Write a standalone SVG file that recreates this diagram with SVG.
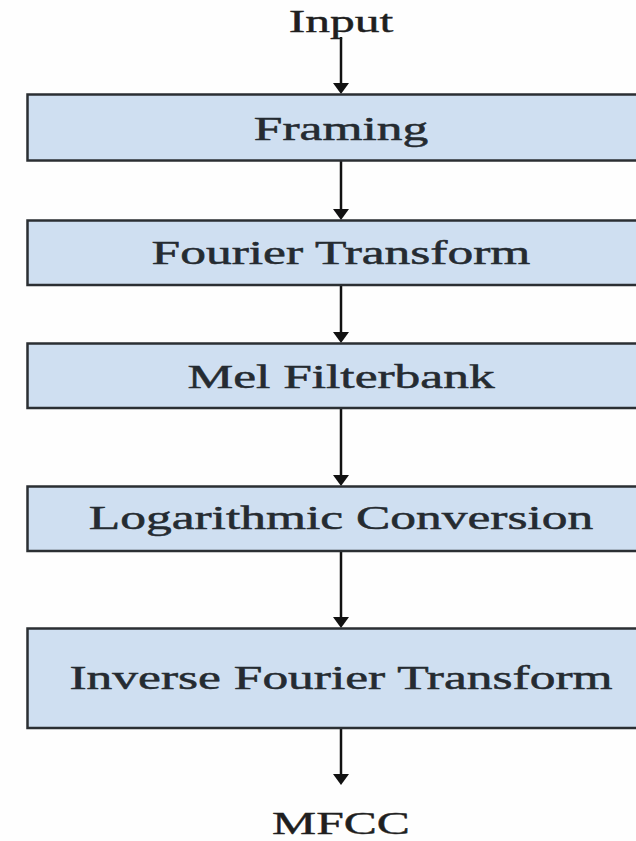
<svg xmlns="http://www.w3.org/2000/svg" width="636" height="841" viewBox="0 0 636 841">
<style>
.box{fill:#cfdff1;stroke:#2b2f33;stroke-width:2.5}
.lbl{font-family:"Liberation Serif","Times New Roman",serif;font-size:33px;fill:#252b31;text-anchor:middle;stroke:#252b31;stroke-width:0.5}
.io{font-family:"Liberation Serif","Times New Roman",serif;font-size:31px;fill:#1f1f1f;text-anchor:middle;stroke:#1f1f1f;stroke-width:0.4}
.con{stroke:#111;stroke-width:2.5;fill:none}
.head{fill:#111}
</style>
<rect width="636" height="841" fill="#fefefe"/>
<g id="connectors">
<line class="con" x1="341" y1="37" x2="341" y2="85"/>
<path class="head" d="M333,83 L349,83 L341,94 Z"/>
<line class="con" x1="341" y1="161" x2="341" y2="211"/>
<path class="head" d="M333,209 L349,209 L341,220 Z"/>
<line class="con" x1="341" y1="285" x2="341" y2="334"/>
<path class="head" d="M333,332 L349,332 L341,343 Z"/>
<line class="con" x1="341" y1="408" x2="341" y2="477"/>
<path class="head" d="M333,475 L349,475 L341,486 Z"/>
<line class="con" x1="341" y1="551" x2="341" y2="619"/>
<path class="head" d="M333,617 L349,617 L341,628 Z"/>
<line class="con" x1="341" y1="728" x2="341" y2="776"/>
<path class="head" d="M333,774 L349,774 L341,785 Z"/>
</g>
<g id="input"><text class="io" transform="translate(341,32) scale(1.6,1)" x="0" y="0">Input</text></g>
<g id="framing"><rect class="box" x="27.5" y="94.5" width="620" height="66"/><text class="lbl" transform="translate(341,140) scale(1.56,1)" x="0" y="0">Framing</text></g>
<g id="fourier"><rect class="box" x="27.5" y="220.5" width="620" height="64.5"/><text class="lbl" transform="translate(341,264) scale(1.56,1)" x="0" y="0">Fourier Transform</text></g>
<g id="mel"><rect class="box" x="27.5" y="343.5" width="620" height="64.5"/><text class="lbl" transform="translate(341,388) scale(1.56,1)" x="0" y="0">Mel Filterbank</text></g>
<g id="log"><rect class="box" x="27.5" y="486.5" width="620" height="64.5"/><text class="lbl" transform="translate(341,529) scale(1.56,1)" x="0" y="0">Logarithmic Conversion</text></g>
<g id="inverse"><rect class="box" x="27.5" y="628.5" width="620" height="99.5"/><text class="lbl" transform="translate(341,689) scale(1.56,1)" x="0" y="0">Inverse Fourier Transform</text></g>
<g id="output"><text class="io" transform="translate(341,834) scale(1.6,1)" x="0" y="0">MFCC</text></g>
</svg>
